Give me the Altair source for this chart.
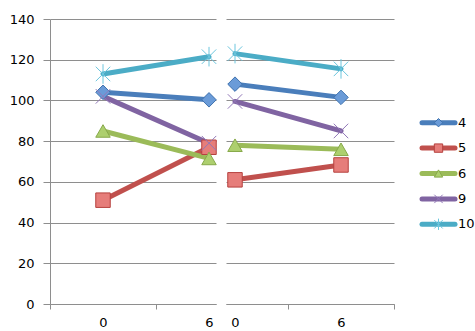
import altair as alt
import pandas as pd

# Sampling times shown on each panel and the five series
times = ["0", "6"]
series = ["4", "5", "6", "9", "10"]

# Values in the left panel (time 0, time 6)
left_4 = [104, 100.3]
left_5 = [51, 77]
left_6 = [85, 71.5]
left_9 = [102, 79]
left_10 = [113, 121.5]

# Values in the right panel (time 0, time 6)
right_4 = [108, 101.5]
right_5 = [61, 68.3]
right_6 = [78, 76]
right_9 = [99.5, 85]
right_10 = [123, 115.5]

y_ticks = [0, 20, 40, 60, 80, 100, 120, 140]

line_colors = ["#4A7EBB", "#C0504D", "#9BBB59", "#8064A2", "#4BACC6"]
marker_fill = ["#6A9BD8", "#E67D7A", "#ADCF6E", "#9A83BD", "#7DCFE3"]
marker_edge = ["#3F72AE", "#B6423F", "#87A94A", "#9278B8", "#6CC6DE"]
x_path = "M-1,-1L1,1M-1,1L1,-1"
star_path = "M-1,-1L1,1M-1,1L1,-1M0,-1.35L0,1.35"
shapes = ["diamond", "square", "triangle-up", x_path, star_path]
FONT = "DejaVu Sans"
GRID = "#8E8E8E"


def frame(vals):
    rows = []
    for s, pair in zip(series, vals):
        for i, (t, v) in enumerate(zip(times, pair)):
            # band centre of each time category (one band per category)
            rows.append({"series": s, "time": t, "pos": i + 0.5, "value": v})
    return pd.DataFrame(rows)


left_df = frame([left_4, left_5, left_6, left_9, left_10])
right_df = frame([right_4, right_5, right_6, right_9, right_10])

y_scale = alt.Scale(domain=[0, 140], nice=False)
line_scale = alt.Scale(domain=series, range=line_colors)
fill_scale = alt.Scale(domain=series, range=marker_fill)
edge_scale = alt.Scale(domain=series, range=marker_edge)
shape_scale = alt.Scale(domain=series, range=shapes)
sw_scale = alt.Scale(domain=series, range=[1, 1, 1, 3, 2.5])


def panel(df, x_domain, width, tick_values, label_expr, label_offset, y_axis):
    x_axis = alt.Axis(
        values=tick_values, labelExpr=label_expr, labelOffset=label_offset,
        labelFlush=False, tickSize=5, tickColor=GRID, domainColor=GRID,
        grid=False, title=None, labelFont=FONT, labelFontSize=13,
        labelColor="#000000", labelPadding=7,
    )
    x = alt.X("pos:Q", scale=alt.Scale(domain=x_domain, nice=False, zero=False), axis=x_axis)
    y = alt.Y("value:Q", scale=y_scale, axis=y_axis)
    base = alt.Chart(df)
    lines = base.mark_line(strokeWidth=5, strokeCap="round").encode(
        x=x, y=y,
        stroke=alt.Stroke("series:N", scale=line_scale, legend=None),
        detail="series:N",
    )
    points = base.mark_point(size=210, filled=False, opacity=1).encode(
        x=x, y=y,
        shape=alt.Shape("series:N", scale=shape_scale, legend=None),
        fill=alt.Fill("series:N", scale=fill_scale, legend=None),
        stroke=alt.Stroke("series:N", scale=edge_scale, legend=None),
        strokeWidth=alt.StrokeWidth("series:N", scale=sw_scale, legend=None),
    )
    return (
        alt.layer(lines, points)
        .resolve_scale(stroke="independent")
        .properties(width=width, height=285)
    )


left_y_axis = alt.Axis(
    values=y_ticks, tickSize=7, tickColor=GRID, domainColor=GRID, gridColor=GRID,
    grid=True, title=None, labelFont=FONT, labelFontSize=13, labelColor="#000000",
    labelPadding=9,
)
right_y_axis = alt.Axis(
    values=y_ticks, grid=True, gridColor=GRID, labels=False, ticks=False,
    domain=False, title=None, minExtent=0, maxExtent=0,
)

left = panel(left_df, [0, 166 / 106], 166, [0, 1],
             "datum.value == 0 ? '0' : '6'", 53, left_y_axis)
right = panel(right_df, [2 - 168 / 106, 2], 168, [1, 2],
              "datum.value == 1 ? '0' : '6'", -53, right_y_axis)

# Legend drawn as its own small panel: line sample, marker, label
legend_df = pd.DataFrame({"series": series})
ly = alt.Y("series:N", scale=alt.Scale(type="point", domain=series, range=[91, 218]), axis=None)
leg_lines = alt.Chart(legend_df).mark_rule(strokeWidth=5, strokeCap="round").encode(
    x=alt.value(18), x2=alt.value(51), y=ly,
    stroke=alt.Stroke("series:N", scale=line_scale, legend=None),
)
leg_points = alt.Chart(legend_df).mark_point(size=70, opacity=1).encode(
    x=alt.value(34.5), y=ly,
    shape=alt.Shape("series:N", scale=shape_scale, legend=None),
    fill=alt.Fill("series:N", scale=fill_scale, legend=None),
    stroke=alt.Stroke("series:N", scale=edge_scale, legend=None),
    strokeWidth=alt.StrokeWidth("series:N", scale=sw_scale, legend=None),
)
leg_text = alt.Chart(legend_df).mark_text(
    align="left", baseline="middle", font=FONT, fontSize=13, color="#000000"
).encode(x=alt.value(54), y=ly, text="series:N")
legend = (
    alt.layer(leg_lines, leg_points, leg_text)
    .resolve_scale(stroke="independent")
    .properties(width=71, height=285)
)

chart = (
    alt.hconcat(left, right, legend, spacing=10, bounds="flush")
    .properties(
        padding={"left": 9, "top": 13, "right": 0, "bottom": 0},
        background="#FFFFFF",
    )
    .configure_view(stroke=None)
)

chart.save("out.html", embed_options={"renderer": "svg", "actions": False})
